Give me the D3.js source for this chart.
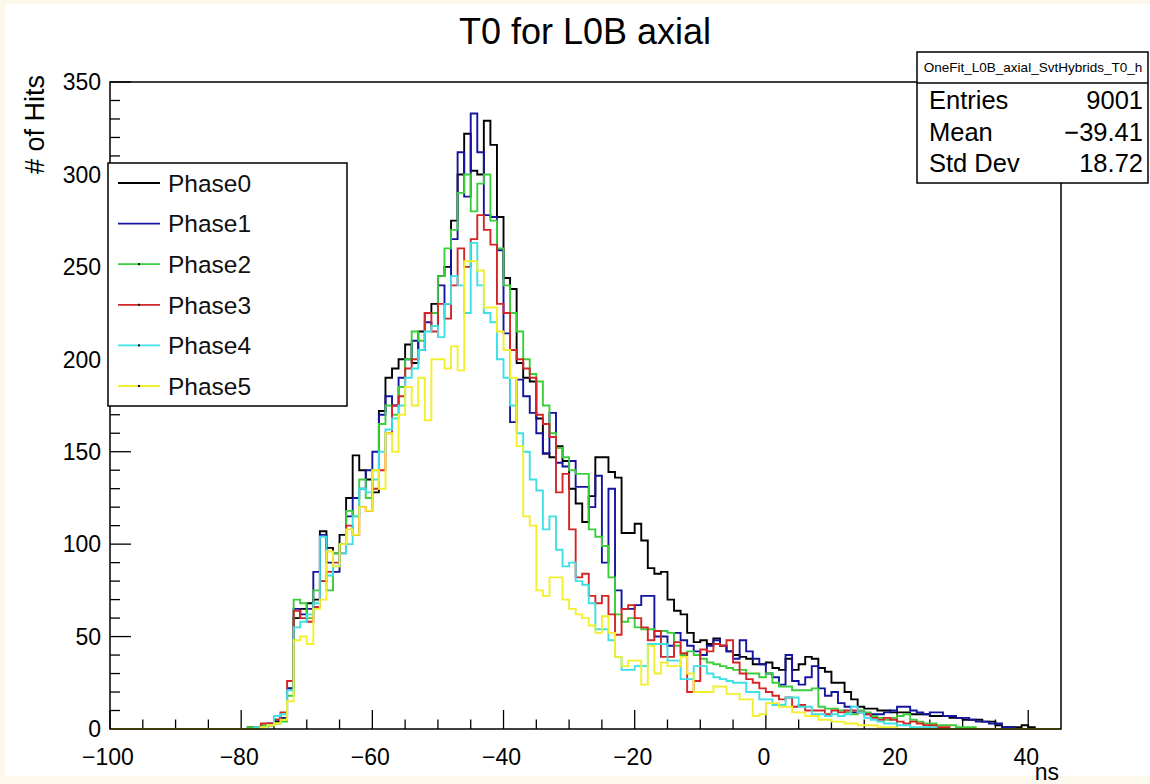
<!DOCTYPE html>
<html>
<head>
<meta charset="utf-8">
<script src="https://cdn.jsdelivr.net/npm/d3@7"></script>
<style>
  html, body { margin: 0; padding: 0; background: #fcf8ec; }
  svg { display: block; }
  text { font-family: "Liberation Sans", Arial, Helvetica, sans-serif; }
</style>
</head>
<body>
<svg id="chart" width="1150" height="784"></svg>
<script>
// ---- histogram data: 1 ns bins, low edges from -100 to 44 ----
const binLow = d3.range(-100, 45);
const xMin = -100, xMax = 45;

// bins -100 .. -81 are empty for every phase
const zeros20 = [0,0,0,0,0,0,0,0,0,0,0,0,0,0,0,0,0,0,0,0];

const phase0 = zeros20.concat([
  0,1,1,1,2,4,6,22,
  60,65,68,70,107,98,95,105,125,148,140,135,
  128,172,190,195,200,208,198,215,225,230,245,250,275,300,322,302,300,329,316,277,
  244,238,198,190,188,168,149,147,153,145,130,122,112,126,147,147,139,136,106,106,
  111,102,87,84,85,70,64,62,52,47,48,46,49,45,42,40,39,38,35,35,
  36,33,32,38,32,35,39,38,33,31,
  25,25,20,16,12,11,11,10,10,9, 9,9,8,8,8,7,7,7,6,6, 5,5,5,4,4,2,1,1,1,2, 1,0,0,0,0]);

const phase1 = zeros20.concat([
  0,0,1,1,3,5,6,22,
  65,62,65,85,105,90,85,100,115,125,130,140,
  150,170,180,175,190,200,210,205,220,218,240,230,265,312,288,333,312,278,277,259,
  214,166,189,180,171,160,149,171,144,142,145,131,131,120,137,90,130,75,65,65,
  67,72,72,50,50,45,52,48,45,42,40,45,48,45,42,38,48,42,38,35,
  30,28,24,40,26,24,28,34,22,18,
  20,14,12,9,9,8,8,8,9,10, 12,12,10,9,8,9,9,7,7,6, 6,5,4,4,3,3,1,1,0,0, 0,0,0,0,0]);

const phase2 = zeros20.concat([
  0,1,1,2,2,3,4,18,
  70,68,60,75,80,75,95,100,118,115,135,125,
  140,165,175,170,185,200,215,210,225,225,245,260,270,290,300,280,295,300,275,260,
  240,225,215,200,192,188,175,160,152,147,140,138,138,108,104,99,82,62,58,60,
  55,54,54,53,53,52,45,40,42,40,38,36,35,34,33,32,32,30,30,28,
  30,25,23,23,21,21,21,22,12,11,
  11,10,9,8,10,9,7,6,5,6, 7,8,5,4,3,3,2,2,2,1, 1,1,0,0,0,0,0,0,0,0, 0,0,0,0,0]);

const phase3 = zeros20.concat([
  0,0,1,3,3,5,9,26,
  64,60,58,66,80,85,90,95,110,105,120,118,
  130,140,160,175,180,195,200,205,225,215,230,222,240,260,250,265,278,270,262,230,
  225,205,200,195,190,170,165,158,128,138,108,82,84,72,68,72,62,51,65,67,
  60,55,48,53,39,39,47,41,20,26,43,42,46,45,48,36,30,27,25,22,
  20,18,16,17,12,13,10,10,10,8,
  10,9,10,10,9,8,6,5,6,5, 4,3,4,3,2,2,1,1,0,0, 0,0,0,0,0,0,0,0,0,0, 0,0,0,0,0]);

const phase4 = zeros20.concat([
  0,0,1,1,2,7,8,21,
  55,58,62,68,104,83,88,95,100,115,130,128,
  135,150,162,168,175,190,195,205,215,218,212,230,245,240,225,263,240,225,220,200,
  190,175,160,150,135,129,108,115,97,88,90,80,78,68,54,54,48,39,32,32,
  34,34,46,46,46,37,37,27,27,34,34,30,28,27,26,25,25,20,20,16,
  16,13,13,17,17,12,12,8,8,7,
  8,7,8,12,9,6,5,4,3,3, 2,2,1,1,1,1,0,0,0,0, 0,0,0,0,0,0,0,0,0,0, 0,0,0,0,0]);

const phase5 = zeros20.concat([
  0,0,0,1,2,3,5,15,
  48,50,46,65,70,96,88,100,108,105,120,118,
  140,130,160,150,170,185,175,190,167,200,200,195,207,194,253,253,248,228,228,215,
  205,190,153,115,110,75,72,82,82,70,65,62,60,56,52,61,52,39,34,37,
  37,24,45,30,36,34,34,39,30,20,20,20,23,23,19,19,16,16,7,8,
  14,14,12,12,9,9,7,7,5,5,
  4,4,3,3,2,2,2,1,1,1, 0,0,0,0,0,0,0,0,0,0, 0,0,0,0,0,0,0,0,0,0, 0,0,0,0,0]);

const seriesNames  = ["Phase0", "Phase1", "Phase2", "Phase3", "Phase4", "Phase5"];
const seriesValues = [phase0, phase1, phase2, phase3, phase4, phase5];
const seriesColors = ["#000000", "#14149e", "#3ccd3c", "#d42626", "#3fdfe6", "#f4ef2c"];
const legendMarker = [false, false, true, true, true, true];

const yTicks = [0, 50, 100, 150, 200, 250, 300, 350];
const xTicks = [-100, -80, -60, -40, -20, 0, 20, 40];

const statsTitle = "OneFit_L0B_axial_SvtHybrids_T0_h";
const statsRows = [["Entries", "9001"], ["Mean", "\u221239.41"], ["Std Dev", "18.72"]];

// ---- layout ----
const svg = d3.select("#chart");
const frame = { left: 110, right: 1061, top: 82, bottom: 729 };

svg.append("rect").attr("x", 5).attr("y", 4).attr("width", 1145).attr("height", 772).attr("fill", "#ffffff");

const x = d3.scaleLinear().domain([xMin, xMax]).range([frame.left, frame.right]);
const y = d3.scaleLinear().domain([0, 350]).range([frame.bottom, frame.top]);

svg.append("defs").append("clipPath").attr("id", "plotClip")
  .append("rect").attr("x", frame.left).attr("y", frame.top - 2)
  .attr("width", frame.right - frame.left).attr("height", frame.bottom - frame.top + 3);

// title
svg.append("text").attr("x", 585).attr("y", 44).attr("text-anchor", "middle")
  .attr("font-size", 36).attr("fill", "#000").text("T0 for L0B axial");

// y axis: major ticks every 50, minor every 10, drawn inward
const yg = svg.append("g").attr("transform", `translate(${frame.left},0)`);
yg.selectAll("line").data(d3.range(0, 351, 10)).join("line")
  .attr("x1", 0).attr("x2", d => (d % 50 === 0 ? 21 : 10))
  .attr("y1", d => y(d)).attr("y2", d => y(d))
  .attr("stroke", "#000").attr("stroke-width", 1.3);
yg.selectAll("text").data(yTicks).join("text")
  .attr("x", -9).attr("y", d => y(d)).attr("dy", "0.36em")
  .attr("text-anchor", "end").attr("font-size", 23).text(d => d);

// x axis: major ticks every 20, minor every 5
const xg = svg.append("g");
xg.selectAll("line").data(d3.range(-100, 45, 5)).join("line")
  .attr("x1", d => x(d)).attr("x2", d => x(d))
  .attr("y1", frame.bottom).attr("y2", d => frame.bottom - (d % 20 === 0 ? 19 : 9.5))
  .attr("stroke", "#000").attr("stroke-width", 1.3);
xg.selectAll("text").data(xTicks).join("text")
  .attr("x", d => x(d) - 2).attr("y", 765).attr("text-anchor", "middle")
  .attr("font-size", 23).text(d => (d < 0 ? "\u2212" + Math.abs(d) : d));

// axis titles
svg.append("text").attr("x", 1059).attr("y", 780).attr("text-anchor", "end")
  .attr("font-size", 23).text("ns");
svg.append("text").attr("transform", "translate(44,75) rotate(-90)")
  .attr("text-anchor", "end").attr("font-size", 27).text("# of Hits");

// histograms as step lines, drawn in phase order
const line = d3.line().x(d => x(d[0])).y(d => y(d[1])).curve(d3.curveStepAfter);
const plot = svg.append("g").attr("clip-path", "url(#plotClip)");
seriesValues.forEach((vals, k) => {
  const pts = binLow.map((b, i) => [b, vals[i]]);
  pts.push([xMax, vals[vals.length - 1]]);
  plot.append("path").datum(pts).attr("d", line)
    .attr("fill", "none").attr("stroke", seriesColors[k]).attr("stroke-width", 1.9);
});

// frame
svg.append("rect").attr("x", frame.left).attr("y", frame.top)
  .attr("width", frame.right - frame.left).attr("height", frame.bottom - frame.top)
  .attr("fill", "none").attr("stroke", "#000").attr("stroke-width", 1.5);

// legend
const leg = svg.append("g");
leg.append("rect").attr("x", 108).attr("y", 163).attr("width", 239).attr("height", 243)
  .attr("fill", "#fff").attr("stroke", "#000").attr("stroke-width", 1.5);
seriesNames.forEach((name, k) => {
  const ry = 183 + k * 40.6;
  leg.append("line").attr("x1", 118).attr("x2", 160).attr("y1", ry).attr("y2", ry)
    .attr("stroke", seriesColors[k]).attr("stroke-width", 1.8);
  if (legendMarker[k]) {
    leg.append("rect").attr("x", 138).attr("y", ry - 1).attr("width", 2).attr("height", 2).attr("fill", "#000");
  }
  leg.append("text").attr("x", 168).attr("y", ry).attr("dy", "0.36em")
    .attr("font-size", 24.5).attr("fill", "#111").text(name);
});

// statistics box
const st = svg.append("g");
st.append("rect").attr("x", 917).attr("y", 52).attr("width", 231).attr("height", 131)
  .attr("fill", "#fff").attr("stroke", "#000").attr("stroke-width", 1.5);
st.append("line").attr("x1", 917).attr("x2", 1148).attr("y1", 83).attr("y2", 83)
  .attr("stroke", "#000").attr("stroke-width", 1.5);
st.append("text").attr("x", 1033).attr("y", 72).attr("text-anchor", "middle")
  .attr("font-size", 13.5).text(statsTitle);
statsRows.forEach((r, i) => {
  const by = 109 + i * 31.5;
  st.append("text").attr("x", 929).attr("y", by).attr("font-size", 25.5).text(r[0]);
  st.append("text").attr("x", 1143).attr("y", by).attr("text-anchor", "end").attr("font-size", 25.5).text(r[1]);
});
</script>
</body>
</html>
